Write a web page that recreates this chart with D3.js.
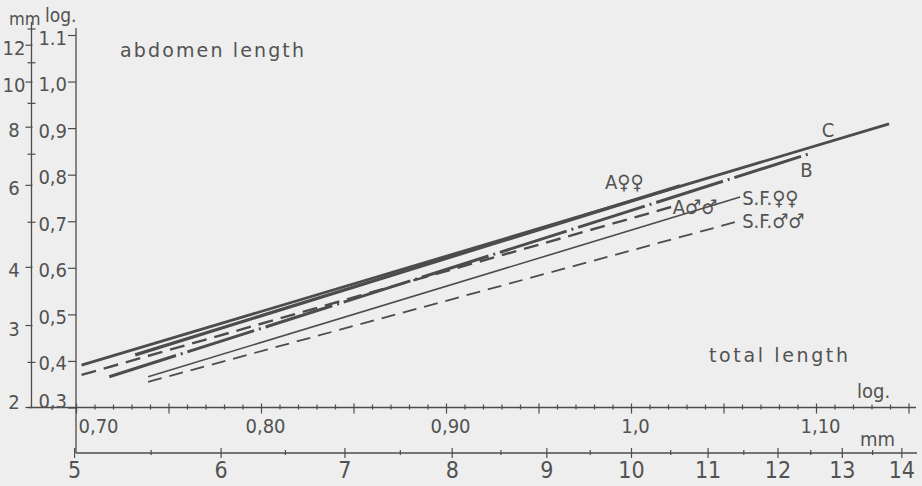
<!DOCTYPE html>
<html><head><meta charset="utf-8">
<script src="https://cdn.jsdelivr.net/npm/d3@7"></script>
<style>
html,body{margin:0;padding:0;background:#eeeeee;}
svg{display:block;}
text{font-family:"DejaVu Sans Condensed","DejaVu Sans",sans-serif;font-stretch:condensed;fill:#525252;}
text.word{font-family:"DejaVu Sans",sans-serif;font-stretch:normal;}
</style></head><body>
<svg id="chart" width="922" height="486"></svg>
<script>
// ---------- data ----------
const logYTicks  = [0.3,0.4,0.5,0.6,0.7,0.8,0.9,1.0,1.1];
const logYLabels = ["0,3","0,4","0,5","0,6","0,7","0,8","0,9","1,0","1.1"];
const mmYTicks   = [2,3,4,6,8,10,12];
const mmYMinor   = [2.5,5,7,9,11,13];
const logXTicks  = [0.70,0.80,0.90,1.00,1.10];
const logXLabels = ["0,70","0,80","0,90","1,0","1,10"];
const logXMid    = [0.75,0.85,0.95,1.05,1.15];
const logXMinor  = [0.71,0.72,0.73,0.74,0.76,0.77,0.78,0.79,0.81,0.82,0.83,0.84,0.86,0.87,0.88,0.89,0.91,0.92,0.93,0.94,0.96,0.97,0.98,0.99,1.01,1.02,1.03,1.04,1.06,1.07,1.08,1.09,1.11,1.12,1.13,1.14];
const mmXTicks   = [5,6,7,8,9,10,11,12,13,14];
const mmXMinor   = [5.5,6.5,7.5,8.5,9.5,10.5,11.5,12.5,13.5];
const seriesNames = ["C","A♀♀","B","A♂♂","S.F.♀♀","S.F.♂♂"];
// [log total length, log abdomen length] at both ends of each regression line
const lineC    = [[0.703,0.391],[1.1395,0.909]];
const lineAff  = [[0.732,0.413],[1.0265,0.776]];
const lineB    = [[0.718,0.366],[1.098,0.847]];
const lineAmm  = [[0.703,0.370],[1.022,0.731]];
const lineSFff = [[0.739,0.366],[1.059,0.752]];
const lineSFmm = [[0.739,0.355],[1.059,0.701]];
const seriesData = [lineC,lineAff,lineB,lineAmm,lineSFff,lineSFmm];

// ---------- layout / style ----------
const svg = d3.select("#chart");
const W=922,H=486, ink="#4c4c4c";
svg.append("rect").attr("width",W).attr("height",H).attr("fill","#eeeeee");

const x = d3.scaleLinear().domain([0.70,1.15]).range([76,908.5]);
const y = d3.scaleLinear().domain([0.30,1.10]).range([407.5,35]);
const xmm = d3.scaleLog().domain([Math.pow(10,0.70),Math.pow(10,1.15)]).range(x.range());
const ymm = d3.scaleLog().domain([Math.pow(10,0.30),Math.pow(10,1.10)]).range(y.range());

const mmAxisX = 31.5, mmAxisY = 453;
function ln(x1,y1,x2,y2,w){svg.append("line").attr("x1",x1).attr("y1",y1).attr("x2",x2).attr("y2",y2).attr("stroke",ink).attr("stroke-width",w||1.3);}

// axis lines
ln(mmAxisX,22,mmAxisX,y(0.3));
ln(x(0.70),28,x(0.70),mmAxisY);
ln(28,y(0.3),916,y(0.3));
ln(x(0.70),mmAxisY,917,mmAxisY);

function styleAxis(g){g.select(".domain").remove();g.selectAll("line").attr("stroke",ink).attr("stroke-width",1.2);g.attr("font-family",null).attr("font-size",null);g.selectAll("text").attr("fill","#525252");}

// left mm axis
const gMmY = svg.append("g").attr("transform",`translate(${mmAxisX},0)`)
  .call(d3.axisLeft(ymm).tickValues(mmYTicks).tickFormat(d=>d).tickSize(6)).call(styleAxis);
gMmY.selectAll("line").attr("x1",1).attr("x2",-6);
gMmY.selectAll("text").attr("x",14-mmAxisX).attr("dy",null).attr("text-anchor","middle")
  .attr("dominant-baseline","central").attr("font-size",20)
  .attr("transform",d=>`translate(0,${Math.min(3, y(0.3)-6-ymm(d))})`);
const gMmYm = svg.append("g").attr("transform",`translate(${mmAxisX},0)`)
  .call(d3.axisLeft(ymm).tickValues(mmYMinor).tickFormat("").tickSize(4)).call(styleAxis);
gMmYm.selectAll("line").attr("x1",4).attr("x2",-4);

// left log axis
const gLogY = svg.append("g").attr("transform",`translate(${x(0.70)},0)`)
  .call(d3.axisLeft(y).tickValues(logYTicks).tickFormat((d,i)=>logYLabels[i]).tickSize(8)).call(styleAxis);
gLogY.selectAll("text").attr("x",-9).attr("dy",null).attr("dominant-baseline","central").attr("font-size",20)
  .attr("transform",d=>`translate(0,${d<0.35? -7:2})`);

// bottom log axis
const gLogX = svg.append("g").attr("transform",`translate(0,${y(0.3)})`)
  .call(d3.axisBottom(x).tickValues(logXTicks).tickFormat((d,i)=>logXLabels[i]).tickSize(6)).call(styleAxis);
gLogX.selectAll("line").attr("y1",-4).attr("y2",6);
gLogX.selectAll("text").attr("y",25).attr("dy",null).attr("font-size",20)
  .attr("text-anchor",(d,i)=>i===0?"start":"middle").attr("x",(d,i)=>i===0?2:4);
const gLogXmid = svg.append("g").attr("transform",`translate(0,${y(0.3)})`)
  .call(d3.axisBottom(x).tickValues(logXMid).tickFormat("").tickSize(6)).call(styleAxis);
gLogXmid.selectAll("line").attr("y1",-4).attr("y2",6);
const gLogXmin = svg.append("g").attr("transform",`translate(0,${y(0.3)})`)
  .call(d3.axisBottom(x).tickValues(logXMinor).tickFormat("").tickSize(2)).call(styleAxis);
gLogXmin.selectAll("line").attr("y1",-3).attr("y2",2);

// bottom mm axis
const gMmX = svg.append("g").attr("transform",`translate(0,${mmAxisY})`)
  .call(d3.axisBottom(xmm).tickValues(mmXTicks).tickFormat(d=>d).tickSize(5)).call(styleAxis);
gMmX.selectAll("line").attr("y1",-5).attr("y2",5);
gMmX.selectAll("text").attr("y",25).attr("dy",null).attr("font-size",23);
const gMmXm = svg.append("g").attr("transform",`translate(0,${mmAxisY})`)
  .call(d3.axisBottom(xmm).tickValues(mmXMinor).tickFormat("").tickSize(3)).call(styleAxis);
gMmXm.selectAll("line").attr("y1",-3).attr("y2",2);

// series lines
const lineGen = d3.line().x(d=>x(d[0])).y(d=>y(d[1]));
const seriesStyle = [
  {w:2.8, dash:null},
  {w:3.2, dash:null},
  {w:3.0, dash:"70,5,2,5"},
  {w:2.4, dash:"15,8"},
  {w:1.6, dash:null},
  {w:1.8, dash:"14,8"}
];
svg.append("g").selectAll("path").data(seriesData).join("path")
  .attr("d",lineGen).attr("fill","none").attr("stroke",ink)
  .attr("stroke-width",(d,i)=>seriesStyle[i].w)
  .attr("stroke-dasharray",(d,i)=>seriesStyle[i].dash);

// series labels (offsets from line end, px)
const labelOff = [
  {dx:-61,dy:13,anchor:"middle"},
  {dx:-75,dy:3,anchor:"start"},
  {dx:-6,dy:24,anchor:"middle"},
  {dx:1,dy:7,anchor:"start"},
  {dx:2,dy:8,anchor:"start"},
  {dx:2,dy:7,anchor:"start"}
];
svg.append("g").selectAll("text").data(seriesNames).join("text")
  .attr("x",(d,i)=>x(seriesData[i][1][0])+labelOff[i].dx)
  .attr("y",(d,i)=>y(seriesData[i][1][1])+labelOff[i].dy)
  .attr("text-anchor",(d,i)=>labelOff[i].anchor)
  .attr("font-size",20).text(d=>d);

// titles
function txt(s,x0,y0,size,len,cls){const t=svg.append("text").attr("x",x0).attr("y",y0).attr("font-size",size).text(s);
  if(cls) t.attr("class",cls);
  if(len){t.attr("textLength",len).attr("lengthAdjust","spacing");} return t;}
txt("abdomen length",120,57,19,184,"word");
txt("total length",709,362,19,139,"word");
txt("mm",9,25,18);
txt("log.",45,22,19);
txt("log.",857,398,20);
txt("mm",860,446,20);
</script>
</body></html>
